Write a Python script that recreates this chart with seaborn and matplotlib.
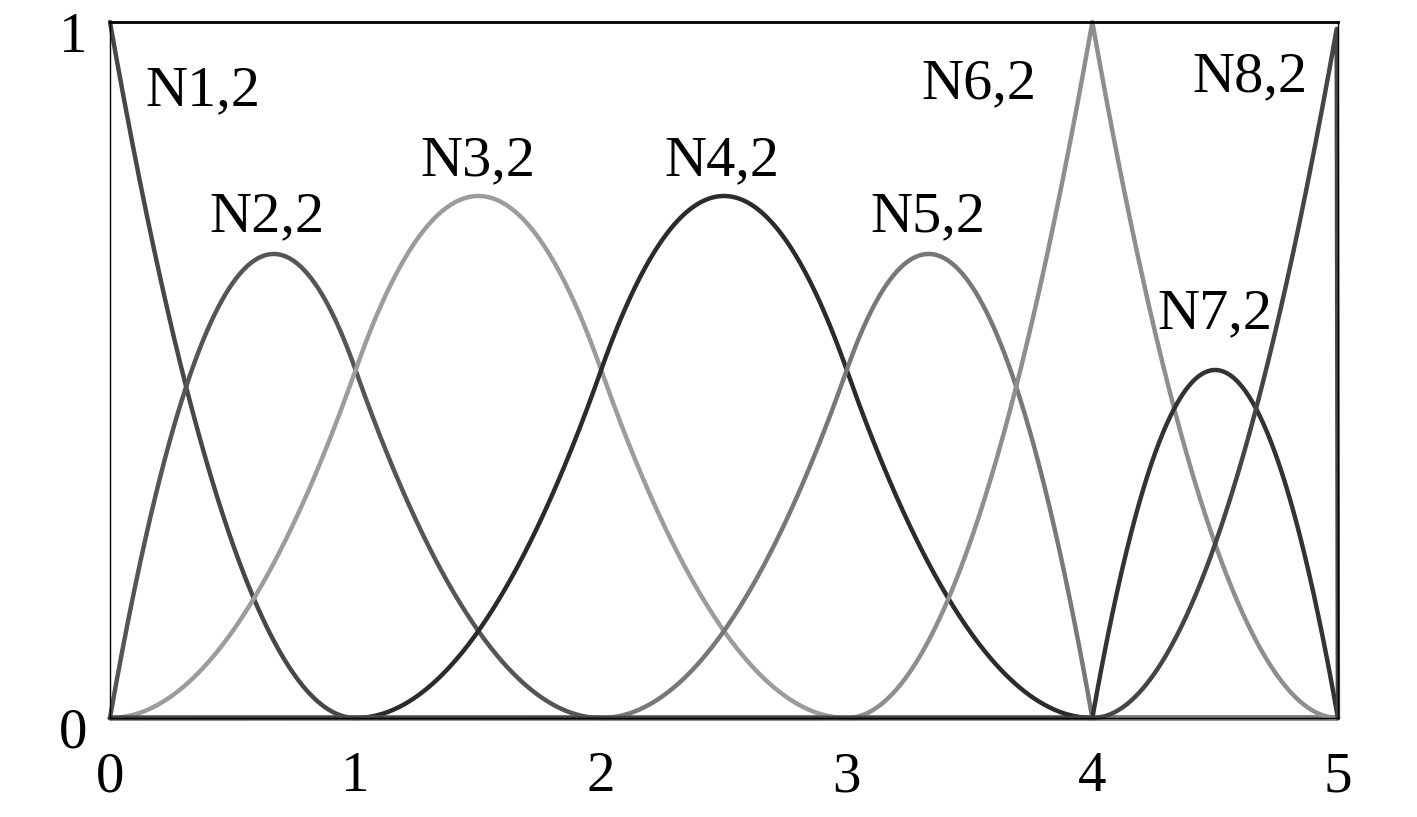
import numpy as np
import pandas as pd
import matplotlib
matplotlib.use("Agg")
import matplotlib.pyplot as plt
import matplotlib.transforms as mtransforms
import seaborn as sns

# quadratic B-spline basis, knot vector (double knot at 4)
knots = [0, 0, 0, 1, 2, 3, 4, 4, 5, 5, 5]
degree = 2
names = ["N1,2", "N2,2", "N3,2", "N4,2", "N5,2", "N6,2", "N7,2", "N8,2"]
colors = ["#474747", "#555555", "#9c9c9c", "#2b2b2b", "#787878", "#8e8e8e", "#333333", "#454545"]
label_x = [0.38, 0.64, 1.50, 2.49, 3.33, 3.54, 4.50, 4.64]
label_y = [0.90, 0.72, 0.80, 0.80, 0.72, 0.91, 0.58, 0.92]


def basis(i, k, t, x):
    if k == 0:
        return np.where((x >= t[i]) & (x < t[i + 1]), 1.0, 0.0)
    out = np.zeros_like(x)
    if t[i + k] > t[i]:
        out += (x - t[i]) / (t[i + k] - t[i]) * basis(i, k - 1, t, x)
    if t[i + k + 1] > t[i + 1]:
        out += (t[i + k + 1] - x) / (t[i + k + 1] - t[i + 1]) * basis(i + 1, k - 1, t, x)
    return out


xs = np.linspace(0, 5, 1001)
rows = []
for i, n in enumerate(names):
    rows.append(pd.DataFrame({"x": xs, "N": basis(i, degree, knots, xs), "name": n}))
df = pd.concat(rows, ignore_index=True)

sns.set_style("white")
plt.rcParams["font.family"] = ["Liberation Serif", "DejaVu Serif"]

fig = plt.figure(figsize=(14.17, 8.17), dpi=100)
ax = fig.add_axes([0.0776, 0.1212, 0.8666, 0.8519])
sns.lineplot(data=df, x="x", y="N", hue="name", palette=colors, hue_order=names,
             linewidth=3.2, legend=False, ax=ax, sort=False)
for ln in ax.get_lines():
    ln.set_clip_on(False)

for n, lx, ly in zip(names, label_x, label_y):
    ax.text(lx, ly, n, fontsize=42, ha="center", va="center", color="black")

ax.set_xlim(0, 5)
ax.set_ylim(0, 1)
ax.set_xticks([0, 1, 2, 3, 4, 5])
ax.set_yticks([0, 1])
ax.set_xlabel("")
ax.set_ylabel("")
ax.tick_params(axis="x", direction="in", length=10, width=1, labelsize=41, pad=24,
               colors="black")
ax.tick_params(axis="y", direction="in", length=0, labelsize=41, pad=16, colors="black")
shift = mtransforms.ScaledTranslation(0, -10 / 100, fig.dpi_scale_trans)
for lab in ax.get_yticklabels():
    lab.set_transform(lab.get_transform() + shift)
for s in ax.spines.values():
    s.set_color("black")
    s.set_linewidth(1)
ax.spines["top"].set_linewidth(2)

fig.savefig("out.png", dpi=100)
